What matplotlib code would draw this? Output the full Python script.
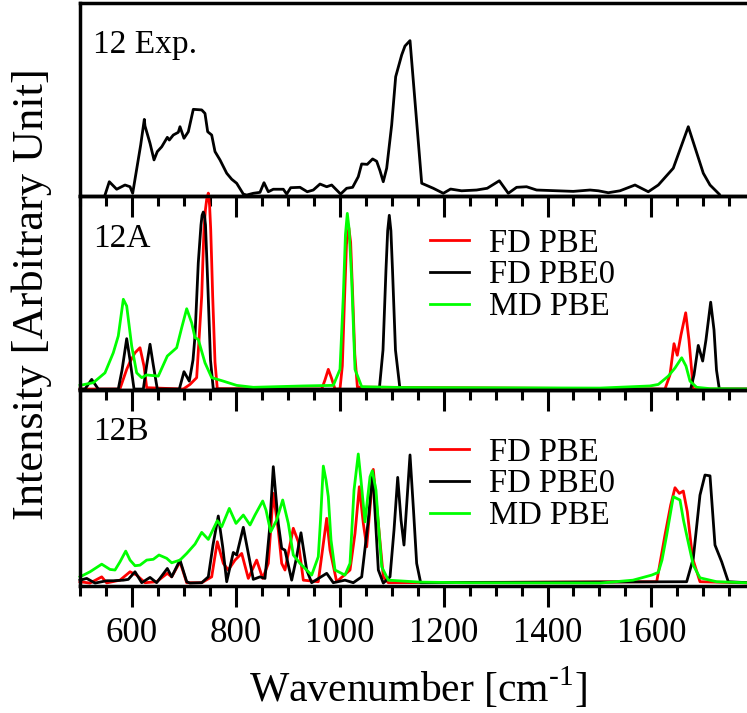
import matplotlib
matplotlib.use('Agg')
import matplotlib.pyplot as plt
from matplotlib.ticker import MultipleLocator, FixedLocator

plt.rcParams['font.family'] = ['Liberation Serif', 'DejaVu Serif']
plt.rcParams['mathtext.fontset'] = 'custom'
plt.rcParams['mathtext.rm'] = 'Liberation Serif'

# --- 1. DATA ---
# 12 Exp.
exp_x = [548.1, 556.4, 570.6, 586.6, 596.3, 601.4, 607.8, 616.8, 623.8, 625.1, 634.8, 642.5,
         648.8, 657.3, 668.1, 671.9, 679.6, 689.2, 692.5, 700.2, 708.5, 718.1, 734.3, 740.6,
         745.8, 753.5, 759.9, 769.5, 782.4, 792.0, 801.6, 814.4, 820.9, 833.6, 846.5, 854.2,
         862.5, 872.1, 891.4, 897.9, 905.6, 923.5, 937.5, 949.1, 962.0, 974.9, 984.5, 1001.7,
         1013.3, 1024.8, 1035.7, 1042.2, 1053.0, 1063.3, 1071.1, 1077.5, 1083.8, 1090.4, 1100.0,
         1107.7, 1119.3, 1125.6, 1135.3, 1157.8, 1180.1, 1199.4, 1213.4, 1234.6, 1263.5, 1283.9,
         1307.2, 1324.5, 1340.5, 1359.7, 1379.0, 1449.5, 1481.8, 1497.8, 1517.0, 1539.5, 1568.4,
         1594.0, 1613.3, 1642.1, 1671.0, 1699.9, 1712.8, 1730.7]
exp_y = [0.5, 7.4, 3.5, 5.7, 4.8, 1.4, 11.8, 26.4, 39.7, 36.3, 27.3, 18.7,
         23.0, 25.5, 30.4, 29.0, 31.6, 33.0, 35.9, 29.9, 33.3, 44.9, 44.6, 42.8,
         33.3, 31.6, 23.0, 18.7, 11.8, 8.7, 6.6, 1.0, 0.5, 1.4, 1.9, 6.9,
         2.2, 3.5, 3.5, 1.0, 4.3, 4.5, 2.2, 3.1, 6.2, 4.8, 5.7, 1.0,
         4.0, 4.5, 10.0, 16.6, 16.4, 19.2, 18.0, 13.1, 7.4, 14.4, 36.8,
         61.8, 73.1, 77.7, 80.5, 6.6, 4.0, 1.4, 3.6, 2.7, 3.1, 4.0,
         7.9, 1.4, 4.5, 4.8, 3.1, 2.4, 3.1, 2.7, 1.7, 2.7, 5.7,
         2.2, 5.7, 14.4, 35.9, 11.8, 5.7, 0.9]

# 12A
a_pbe_x = [500, 573.2, 577.0, 589.9, 596.3, 605.9, 615.5, 623.2, 628.4, 698.9, 711.8, 724.6,
           734.3, 736.5, 738.7, 741.5, 743.9, 747.0, 749.5, 751.6, 753.5, 755.4, 759.9, 764.3,
           965.3, 971.6, 978.0, 984.1, 990.9, 1000.5, 1005.0, 1009.0, 1013.0, 1017.5, 1021.0,
           1025.0, 1029.0, 1034.0, 1626.1, 1635.7, 1643.5, 1649.8, 1656.9, 1666.0, 1672.3,
           1680.6, 1800]
a_pbe_y = [0, 0, 0.2, 10.2, 14.1, 18.8, 21.4, 11.9, 0.7, 0, 2.4, 5.9,
           48.2, 66.0, 82.8, 93.0, 98.3, 101.5, 95.0, 82.8, 66.0, 48.2, 13.9, 0.2,
           0, 4.7, 10.2, 5.7, 0, 0, 12.0, 45.0, 75.0, 83.5, 76.0,
           48.0, 18.0, 1.0, 0, 7.3, 23.5, 17.5, 28.0, 39.5, 25.4,
           0, 0]

a_pbe0_x = [500, 509.6, 522.5, 535.2, 573.7, 580.9, 589.9, 596.3, 604.0, 621.9, 628.4, 634.8,
            641.1, 648.8, 691.2, 700.2, 710.4, 717.5, 721.4, 727.7, 732.9, 735.0, 737.4, 739.5,
            741.6, 746.4, 751.2, 756.6, 1076.2, 1083.3, 1089.0, 1092.3, 1095.4, 1098.5, 1101.6,
            1107.3, 1116.0, 1675.6, 1682.0, 1690.2, 1698.7, 1705.0, 1714.1, 1720.5, 1725.3,
            1730.7, 1800]
a_pbe0_y = [0, 0, 5.0, 0, 0, 9.8, 26.1, 15.0, 0, 0, 12.4, 23.2,
            12.4, 0, 0, 9.0, 4.1, 15.0, 27.5, 65.4, 85.0, 90.0, 91.7, 90.0,
            85.0, 51.3, 15.0, 0, 0, 20.2, 61.6, 82.0, 90.0, 82.0, 61.6,
            20.2, 0, 0, 7.3, 22.6, 14.5, 25.4, 45.0, 30.6, 9.8,
            0, 0]

a_md_x = [500, 525.6, 548.1, 564.1, 573.7, 583.4, 589.9, 599.5, 609.1, 618.8, 628.4, 650.7,
          668.1, 686.1, 695.8, 705.4, 715.0, 721.4, 727.7, 740.6, 753.5, 775.9, 801.6, 833.6,
          929.9, 987.6, 1000.5, 1006.9, 1011.0, 1014.6, 1018.0, 1023.0, 1029.4, 1042.3, 1116.0,
          1501.0, 1597.3, 1613.3, 1632.5, 1645.4, 1658.3, 1666.6, 1674.3, 1687.1, 1712.8, 1800]
a_md_y = [1.9, 3.3, 8.4, 18.8, 27.5, 46.5, 43.0, 22.3, 8.4, 5.9, 7.3, 6.7,
          17.1, 21.4, 31.8, 41.6, 34.3, 26.6, 25.7, 13.6, 5.9, 4.1, 1.9, 0.9,
          1.6, 1.9, 10.2, 48.2, 80.0, 91.0, 83.0, 56.8, 10.2, 1.2, 0.8,
          0.5, 1.6, 2.4, 6.7, 10.9, 16.2, 11.9, 4.1, 0.9, 0.2, 0]

# 12B
b_pbe_x = [500, 519.3, 541.8, 551.4, 577.0, 596.3, 609.1, 625.1, 647.6, 668.1, 676.5, 692.5,
           705.4, 734.3, 753.5, 764.3, 775.9, 785.5, 798.4, 811.3, 824.0, 840.1, 851.7, 862.5,
           872.1, 881.7, 888.3, 894.6, 910.6, 920.2, 929.9, 958.7, 974.9, 981.3, 994.1, 1019.8,
           1029.4, 1037.7, 1045.4, 1051.9, 1064.6, 1074.3, 1083.9, 1093.5, 1610.2, 1626.1,
           1637.1, 1645.4, 1653.7, 1661.4, 1669.1, 1679.3, 1693.5, 1800]
b_pbe_y = [0.7, 0, 3.2, 0.1, 1.5, 5.8, 4.1, 0.2, 0.7, 5.0, 3.2, 10.9,
           0.2, 0.2, 3.2, 21.2, 10.1, 6.7, 11.8, 15.2, 2.4, 11.8, 2.4, 10.1,
           46.0, 27.2, 10.1, 6.7, 28.1, 21.2, 1.5, 0.7, 33.2, 16.9, 0.7, 6.7,
           25.5, 49.4, 30.6, 18.6, 58.3, 30.6, 3.2, 0.2, 0.7, 24.6,
           40.0, 48.9, 46.0, 47.2, 36.6, 12.7, 0.7, 0]

b_pbe0_x = [500, 512.9, 528.9, 551.4, 564.1, 583.4, 593.0, 605.9, 618.8, 634.8, 647.6, 668.1,
            676.5, 692.5, 705.4, 711.8, 734.3, 747.0, 756.0, 766.2, 774.7, 782.4, 795.1, 801.6,
            814.4, 824.0, 833.6, 846.5, 856.1, 864.8, 872.1, 881.7, 888.3, 894.6, 907.5, 915.8,
            925.4, 936.4, 946.0, 974.9, 987.6, 1010.1, 1026.1, 1042.3, 1055.0, 1063.5, 1074.3,
            1083.9, 1096.8, 1104.5, 1111.6, 1118.0, 1123.7, 1129.5, 1135.3, 1142.0, 1148.1,
            1155.8, 1667.9, 1680.6, 1693.5, 1703.1, 1712.8, 1722.4, 1735.3, 1748.0, 1800]
b_pbe0_y = [1.5, 2.4, 0, 1.2, 1.2, 1.5, 1.9, 5.8, 0.2, 2.9, 0.2, 7.5,
            3.2, 11.8, 0.7, 0, 0.2, 3.2, 19.5, 34.4, 18.6, 0.7, 15.7, 14.4,
            28.6, 15.2, 1.9, 3.2, 2.4, 27.2, 59.7, 30.6, 17.8, 16.9, 1.5, 11.8,
            25.8, 6.7, 0.2, 5.0, 0.2, 1.5, 0.2, 3.2, 32.3, 57.1, 6.7,
            0, 3.2, 27.2, 54.2, 32.3, 19.5, 42.6, 65.7, 37.4, 10.1,
            0.2, 0.7, 12.7, 45.1, 55.4, 55.0, 19.5, 10.9, 0.7, 0]

b_md_x = [500, 519.3, 541.8, 557.8, 567.4, 577.0, 588.0, 596.3, 605.9, 615.5, 628.4, 641.1,
          652.1, 666.9, 676.5, 692.5, 705.4, 721.4, 734.3, 747.0, 764.3, 772.8, 787.4, 800.3,
          814.4, 827.3, 836.9, 851.7, 858.1, 867.1, 878.6, 890.2, 901.0, 910.6, 923.5, 946.0,
          958.7, 963.0, 968.4, 973.6, 978.0, 983.2, 990.9, 1010.1, 1019.8, 1027.5, 1035.7,
          1040.9, 1048.6, 1058.3, 1062.7, 1069.8, 1074.6, 1080.8, 1093.5, 1154.5, 1250.8,
          1501.0, 1564.5, 1600.5, 1613.3, 1620.4, 1629.4, 1642.1, 1655.0, 1661.7, 1667.9,
          1680.6, 1693.5, 1725.6, 1800]
b_md_y = [3.2, 5.8, 9.7, 7.0, 6.7, 10.9, 16.4, 11.8, 8.9, 9.2, 11.8, 12.2,
          14.4, 12.7, 10.4, 11.8, 15.2, 20.0, 26.0, 22.4, 32.0, 28.9, 38.3, 30.6,
          34.9, 29.8, 34.9, 42.1, 37.4, 26.3, 32.3, 42.6, 30.6, 14.4, 10.1, 4.1,
          13.5, 32.3, 60.0, 52.8, 44.3, 22.1, 6.7, 4.1, 10.1, 47.7, 66.2,
          52.8, 31.4, 54.5, 57.6, 47.7, 29.8, 8.4, 1.5, 0.5, 0.15,
          0, 1.5, 4.1, 5.5, 11.8, 24.6, 44.3, 42.6, 32.3, 24.6,
          9.2, 2.7, 0.7, 0]

panel_labels = ['12 Exp.', '12A', '12B']
legend_labels = ['FD PBE', 'FD PBE0', 'MD PBE']
series_colors = ['#ff0000', '#000000', '#00ff00']
major_ticks = [600, 800, 1000, 1200, 1400, 1600]

# --- 2. FIGURE ---
fig = plt.figure(figsize=(7.47, 7.13), dpi=100)
left, width = 80 / 747, 675.3 / 747
boxes = [(0.7251, 0.2707), (0.4530, 0.2721), (0.1781, 0.2749)]
ylims = [(0, 100), (-0.5, 100), (-1.5, 99)]
axes = []
for (b, h), yl in zip(boxes, ylims):
    ax = fig.add_axes([left, b, width, h])
    ax.set_facecolor('none')
    ax.set_xlim(500, 1800)
    ax.set_ylim(*yl)
    ax.xaxis.set_major_locator(FixedLocator(major_ticks))
    ax.xaxis.set_minor_locator(MultipleLocator(50))
    ax.tick_params(axis='x', which='major', direction='out', length=15, width=2.2,
                   labelsize=25, pad=7)
    ax.tick_params(axis='x', which='minor', direction='out', length=7, width=2.2)
    ax.tick_params(axis='y', left=False, labelleft=False)
    for s in ax.spines.values():
        s.set_linewidth(2.5)
    axes.append(ax)

axes[0].plot(exp_x, exp_y, color='black', lw=2.0)

sets = [(axes[1], [(a_pbe_x, a_pbe_y), (a_pbe0_x, a_pbe0_y), (a_md_x, a_md_y)]),
        (axes[2], [(b_pbe_x, b_pbe_y), (b_pbe0_x, b_pbe0_y), (b_md_x, b_md_y)])]
for ax, series in sets:
    for (xs, ys), c, lab in zip(series, series_colors, legend_labels):
        ax.plot(xs, ys, color=c, lw=2.0, label=lab, clip_on=False)

for ax in axes[:2]:
    ax.tick_params(axis='x', which='both', labelbottom=False)

# legends
for ax, top in zip(axes[1:], [0.835, 0.76]):
    ax.legend(loc='upper left', bbox_to_anchor=(0.518, top), frameon=False,
              fontsize=23.5, handlelength=1.2, handletextpad=0.6, labelspacing=0.04,
              borderpad=0, borderaxespad=0)

for ax, lab, yb in zip(axes, panel_labels, [0.741, 0.737, 0.745]):
    ax.text(0.019, yb, lab, transform=ax.transAxes, fontsize=24, va='baseline', ha='left')

fig.text(0.042, 0.5877, 'Intensity [Arbitrary Unit]', rotation=90, fontsize=32,
         ha='center', va='center')
fig.text(0.5596, 0.0154, 'Wavenumber [cm$^{\\text{-1}}$]', fontsize=30,
         ha='center', va='baseline')

fig.savefig('out.png', dpi=100)
